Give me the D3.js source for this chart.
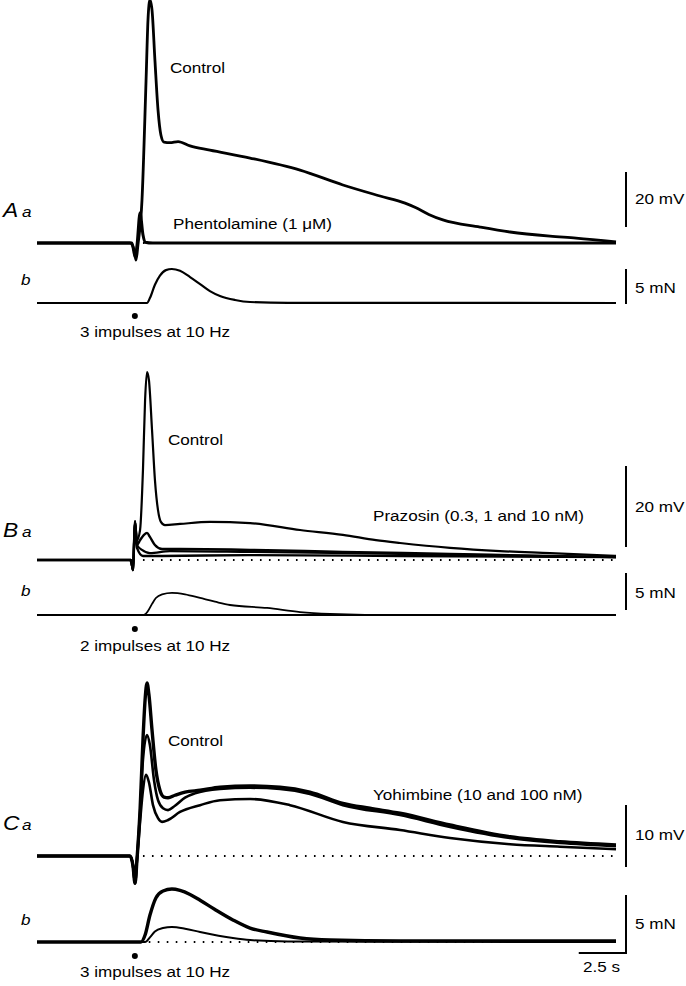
<!DOCTYPE html>
<html><head><meta charset="utf-8">
<script src="https://cdn.jsdelivr.net/npm/d3@7"></script>
<style>
html,body{margin:0;padding:0;background:#fff;}
svg{display:block;}
text{font-family:"Liberation Sans",Arial,sans-serif;fill:#000;}
</style></head>
<body>
<svg id="c" width="686" height="986"></svg>
<script>
// ---- data: time (s), membrane potential (mV) / force (mN) ----
const timeDomain = [0, 30];
const stimTimes = [5.07];

// Panel A
const aControl = [[0,0],[4.82,0],[5.03,-2.5],[5.13,-6.2],[5.23,-0.7],[5.44,15.6],[5.65,59],[5.75,81],[5.85,88.4],[5.96,84.7],[6.11,66.5],[6.27,48.4],[6.42,39.3],[6.58,36.7],[6.89,36.5],[7.31,36.9],[7.93,35.3],[8.96,33.8],[11.04,30.9],[13.63,26.5],[15.85,21.1],[17.77,17.1],[19.07,14.5],[19.64,12.8],[20.3,10.4],[21.03,8.4],[22.95,5.8],[24.51,4.0],[26.58,2.5],[27.93,1.8],[30,0.4]];
const aPhentolamine = [[0,0],[4.92,0],[5.08,-5.0],[5.18,-1.0],[5.34,11.0],[5.49,3.0],[5.6,0.3],[6.0,0],[30,0]];
const aForce = [[0,0],[5.7,0],[5.85,0.7],[6.11,2.6],[6.37,3.9],[6.68,4.7],[6.99,4.86],[7.41,4.6],[7.93,3.7],[8.45,2.7],[8.96,1.7],[9.48,1.0],[10.26,0.43],[11.04,0.14],[13,0.03],[30,0]];

// Panel B
const bControl = [[0,0],[4.82,0],[4.97,-2.0],[5.08,9.4],[5.18,4.9],[5.34,7.4],[5.49,22.2],[5.60,39.5],[5.70,46.4],[5.80,44.4],[5.96,32.1],[6.11,19.8],[6.27,12.3],[6.42,9.4],[6.63,8.6],[7.41,8.9],[8.96,9.4],[11.04,9.1],[13.63,7.4],[15.85,6.2],[17.56,4.9],[18.81,4.2],[21.40,3.0],[23.99,2.2],[26.58,1.7],[30,1.0]];
const bPrazosin03 = [[0,0],[4.87,0],[4.97,-2.5],[5.08,9.6],[5.18,3.7],[5.34,4.9],[5.54,6.2],[5.70,6.7],[5.85,5.7],[6.11,3.7],[6.48,2.7],[7.41,2.7],[11.04,2.5],[15.85,2.0],[21.4,1.5],[26.58,1.0],[30,0.7]];
const bPrazosin1 = [[0,0],[4.87,0],[4.97,-2.5],[5.08,9.6],[5.18,3.7],[5.44,2.5],[5.85,1.7],[6.89,2.2],[11.04,2.0],[18.81,1.5],[30,0.7]];
const bPrazosin10 = [[0,0],[4.87,0],[4.97,-2.5],[5.08,9.0],[5.18,3.0],[5.49,1.0],[6.37,1.0],[11.04,1.2],[18.81,1.0],[30,0.7]];
const bForceControl = [[0,0],[5.54,0],[5.75,0.54],[5.96,1.5],[6.16,2.3],[6.48,2.8],[6.99,3.0],[7.67,2.8],[8.45,2.3],[9.22,1.8],[10.0,1.35],[11.92,0.95],[13.63,0.4],[15.18,0.14],[17,0.03],[30,0]];
const bForcePrazosin = [[0,0],[30,0]];

// Panel C
const cYohimbine100 = [[0,0],[4.82,0],[4.97,-1.5],[5.08,-4.4],[5.18,-0.6],[5.34,7.4],[5.49,18.7],[5.60,25.2],[5.70,27.9],[5.80,26.0],[5.96,20.3],[6.16,13.9],[6.37,10.6],[6.58,9.5],[6.79,9.4],[7.15,9.8],[7.67,10.3],[8.45,10.6],[9.48,11.1],[11.04,11.3],[12.59,11.1],[14.14,10.3],[15.85,8.5],[17.25,7.7],[18.81,6.9],[21.40,5.0],[24.51,3.1],[27.10,2.3],[30,1.8]];
const cYohimbine10 = [[0,0],[4.82,0],[4.97,-1.5],[5.08,-4.4],[5.18,-0.6],[5.34,7.0],[5.49,15.5],[5.70,19.5],[5.85,17.9],[6.06,12.3],[6.27,9.0],[6.53,7.7],[6.79,7.4],[7.15,8.1],[7.67,9.4],[8.19,10.1],[9.48,10.8],[11.04,11.0],[12.59,10.8],[14.14,10.0],[15.85,8.2],[18.81,6.6],[21.40,4.7],[24.51,2.9],[27.10,2.1],[30,1.6]];
const cControl = [[0,0],[4.82,0],[4.97,-1.5],[5.08,-4.4],[5.18,-0.6],[5.34,5.5],[5.49,10.6],[5.65,13.1],[5.80,11.9],[6.01,8.2],[6.27,6.1],[6.48,5.5],[6.79,5.8],[7.41,7.1],[8.45,8.2],[9.48,9.0],[11.04,9.2],[13.11,8.2],[15.85,5.5],[18.81,4.2],[21.40,2.9],[24.51,1.9],[27.10,1.5],[30,1.1]];
const cForceYohimbine = [[0,0],[5.39,0],[5.60,0.6],[5.85,2.3],[6.16,3.8],[6.53,4.4],[6.99,4.57],[7.41,4.45],[7.93,4.1],[8.45,3.6],[9.22,2.8],[10.15,1.9],[11.04,1.2],[11.92,0.86],[13.63,0.34],[15.18,0.17],[18.81,0.09],[30,0.09]];
const cForceControl = [[0,0],[5.60,0],[5.85,0.4],[6.11,0.9],[6.53,1.2],[6.99,1.3],[7.67,1.15],[8.45,0.86],[10.15,0.34],[11.04,0.17],[13,0.05],[30,0]];

const dottedStart = 5.49;

// scale bar values and labels
const panelLetters = ["A","B","C"];
const vBars = [20, 20, 10];
const vBarLabels = ["20 mV","20 mV","10 mV"];
const fBar = 5, fBarLabel = "5 mN";
const timeBar = 2.5, timeBarLabel = "2.5 s";
const stimLabels = ["3 impulses at 10 Hz","2 impulses at 10 Hz","3 impulses at 10 Hz"];
const drugLabels = ["Phentolamine (1 \u03bcM)","Prazosin (0.3, 1 and 10 nM)","Yohimbine (10 and 100 nM)"];

// ---- layout ----
const svg = d3.select("#c");
const x = d3.scaleLinear().domain(timeDomain).range([37, 616]);
const SX = 1.14; // horizontal text stretch

function txt(s, px, py, size, italic){
  return svg.append("text")
    .attr("transform", `translate(${px},${py}) scale(${SX},1)`)
    .attr("font-size", size)
    .attr("font-style", italic ? "italic" : "normal")
    .text(s);
}

const panels = [
  {vBase:243, vPx:55, fBase:303, fPx:35,
   vTraces:[{d:aControl,w:2.8},{d:aPhentolamine,w:3.0}],
   fTraces:[{d:aForce,w:2.2}],
   dotV:true, dotF:false,
   vBarBottom:227, fBarBottom:304,
   letterY:217, bY:285, ctrlY:73, drugX:173, drugY:229, vLabY:204, fLabY:293, dotY:316, stimY:337},
  {vBase:560, vPx:81, fBase:615, fPx:37,
   vTraces:[{d:bControl,w:2.2},{d:bPrazosin03,w:2.4},{d:bPrazosin1,w:2.2},{d:bPrazosin10,w:2.4}],
   fTraces:[{d:bForceControl,w:1.8},{d:bForcePrazosin,w:2.2}],
   dotV:true, dotF:false,
   vBarBottom:547, fBarBottom:610,
   letterY:537, bY:596, ctrlY:445, drugX:373, drugY:521, vLabY:512, fLabY:598, dotY:629, stimY:651},
  {vBase:856, vPx:62, fBase:942, fPx:58,
   vTraces:[{d:cYohimbine100,w:3.4},{d:cYohimbine10,w:2.6},{d:cControl,w:2.6}],
   fTraces:[{d:cForceYohimbine,w:3.4},{d:cForceControl,w:2.0}],
   dotV:true, dotF:true,
   vBarBottom:867, fBarBottom:953,
   letterY:830, bY:925, ctrlY:746, drugX:373, drugY:800, vLabY:840, fLabY:929, dotY:956, stimY:977}
];

panels.forEach((p, i) => {
  const yv = d3.scaleLinear().domain([0, vBars[i]]).range([p.vBase, p.vBase - p.vPx]);
  const yf = d3.scaleLinear().domain([0, fBar]).range([p.fBase, p.fBase - p.fPx]);
  const lv = d3.line().x(d => x(d[0])).y(d => yv(d[1])).curve(d3.curveMonotoneX);
  const lf = d3.line().x(d => x(d[0])).y(d => yf(d[1])).curve(d3.curveMonotoneX);

  // dotted baselines
  if (p.dotV) svg.append("line").attr("x1", x(dottedStart)).attr("x2", x(timeDomain[1]))
      .attr("y1", yv(0)).attr("y2", yv(0)).attr("stroke","#000").attr("stroke-width",2)
      .attr("stroke-dasharray","1.6,7.4");
  if (p.dotF) svg.append("line").attr("x1", x(dottedStart+0.3)).attr("x2", x(timeDomain[1]))
      .attr("y1", yf(0)).attr("y2", yf(0)).attr("stroke","#000").attr("stroke-width",2)
      .attr("stroke-dasharray","1.6,7.4");

  p.vTraces.forEach(t => svg.append("path").attr("d", lv(t.d)).attr("fill","none")
      .attr("stroke","#000").attr("stroke-width", t.w).attr("stroke-linejoin","round"));
  p.fTraces.forEach(t => svg.append("path").attr("d", lf(t.d)).attr("fill","none")
      .attr("stroke","#000").attr("stroke-width", t.w).attr("stroke-linejoin","round"));

  // scale bars
  const vLen = yv(0) - yv(vBars[i]);
  const fLen = yf(0) - yf(fBar);
  svg.append("line").attr("x1",626).attr("x2",626).attr("y1",p.vBarBottom).attr("y2",p.vBarBottom - vLen)
     .attr("stroke","#000").attr("stroke-width",2);
  svg.append("line").attr("x1",626).attr("x2",626).attr("y1",p.fBarBottom).attr("y2",p.fBarBottom - fLen)
     .attr("stroke","#000").attr("stroke-width",2);
  if (i === 2) {
    svg.append("line").attr("x1", 627 - (x(timeBar) - x(0))).attr("x2", 627)
       .attr("y1", p.fBarBottom).attr("y2", p.fBarBottom).attr("stroke","#000").attr("stroke-width",2);
    txt(timeBarLabel, 583, 972, 15, false);
  }
  txt(vBarLabels[i], 635, p.vLabY, 15, false);
  txt(fBarLabel, 635, p.fLabY, 15, false);

  // labels
  txt(panelLetters[i], 3, p.letterY, 20, true);
  txt("a", 22, p.letterY, 15, true);
  txt("b", 21, p.bY, 15, true);
  txt("Control", i === 0 ? 170 : 168, p.ctrlY, 15, false);
  txt(drugLabels[i], p.drugX, p.drugY, 15, false);

  // stimulus marker
  svg.append("circle").attr("cx", x(stimTimes[0])).attr("cy", p.dotY).attr("r", 3).attr("fill","#000");
  txt(stimLabels[i], 80, p.stimY, 15, false);
});
</script>
</body></html>
